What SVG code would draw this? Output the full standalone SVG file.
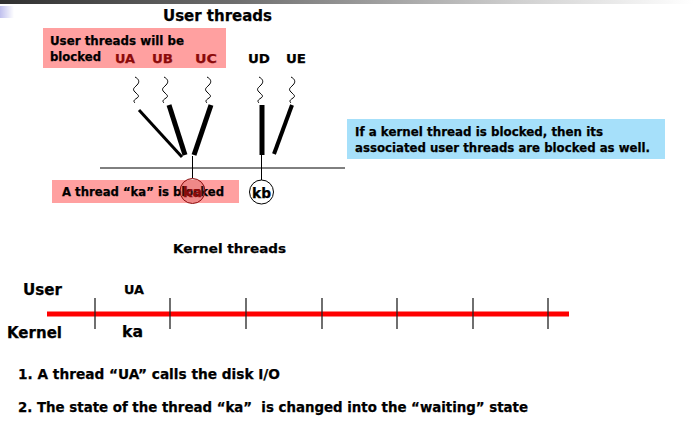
<svg xmlns="http://www.w3.org/2000/svg" width="693" height="448" viewBox="0 0 693 448">
<defs>
<linearGradient id="topbar" x1="0" y1="0" x2="1" y2="0">
<stop offset="0" stop-color="#303030"/>
<stop offset="0.35" stop-color="#707070"/>
<stop offset="0.75" stop-color="#d0d0d0"/>
<stop offset="1" stop-color="#ffffff"/>
</linearGradient>
<linearGradient id="lav" x1="0" y1="0" x2="1" y2="0">
<stop offset="0" stop-color="#c0c0ee"/>
<stop offset="1" stop-color="#ffffff"/>
</linearGradient>
<path id="sq" d="M-1,0 c4,2 5,5 2,8 s-5,4 -2,7 s5,4 2,6 s-4,3 -2,5" fill="none" stroke="#000" stroke-width="1"/>
</defs>
<style>
text{font-family:"DejaVu Sans","Verdana",sans-serif;font-weight:bold;fill:#000;stroke:#000;stroke-width:0.25}
.t12{font-size:12px}
.t13{font-size:13px}
.red{fill:#8b0a0a;stroke:#8b0a0a}
.pink{fill:#ffa0a0}
.blue{fill:#a6e0fa}
.thin{stroke:#000;stroke-width:1;fill:none}
.tick{stroke:#222;stroke-width:1.3}
</style>
<rect x="0" y="0" width="693" height="4" fill="url(#topbar)"/>
<rect x="0" y="6" width="14" height="12" fill="url(#lav)"/>

<text x="163" y="21" style="font-size:15px" textLength="109" lengthAdjust="spacingAndGlyphs">User threads</text>

<g id="user-blocked-note">
<rect class="pink" x="43" y="28" width="183" height="40"/>
<text class="t12" x="50" y="45" textLength="134" lengthAdjust="spacingAndGlyphs">User threads will be</text>
<text class="t12" x="50" y="61" textLength="51" lengthAdjust="spacingAndGlyphs">blocked</text>
</g>
<g id="UA"><text class="t13 red" x="115" y="63" textLength="20" lengthAdjust="spacingAndGlyphs">UA</text><use href="#sq" x="136" y="77"/></g>
<g id="UB"><text class="t13 red" x="152" y="63" textLength="21" lengthAdjust="spacingAndGlyphs">UB</text><use href="#sq" x="165" y="77"/></g>
<g id="UC"><text class="t13 red" x="195" y="63" textLength="22" lengthAdjust="spacingAndGlyphs">UC</text><use href="#sq" x="208" y="77"/></g>
<g id="UD"><text class="t13" x="248" y="63" textLength="22" lengthAdjust="spacingAndGlyphs">UD</text><use href="#sq" x="260" y="77"/></g>
<g id="UE"><text class="t13" x="286" y="63" textLength="20" lengthAdjust="spacingAndGlyphs">UE</text><use href="#sq" x="292" y="77"/></g>

<g id="connectors">
<line x1="139" y1="110" x2="182" y2="157" stroke="#000" stroke-width="3"/>
<line x1="169" y1="105" x2="185" y2="155" stroke="#000" stroke-width="5"/>
<line x1="211" y1="105" x2="194" y2="155" stroke="#000" stroke-width="5"/>
<line x1="262" y1="105" x2="262" y2="155" stroke="#000" stroke-width="5"/>
<line x1="292" y1="105" x2="274" y2="154" stroke="#000" stroke-width="4"/>
<line class="thin" x1="100" y1="168" x2="345" y2="168"/>
<line class="thin" x1="192.5" y1="156" x2="192.5" y2="178"/>
<line class="thin" x1="261.5" y1="155" x2="261.5" y2="180"/>
</g>

<g id="blocked-note">
<rect class="pink" x="52" y="180" width="187" height="23"/>
<text class="t12" x="62" y="196" textLength="162" lengthAdjust="spacingAndGlyphs">A thread “ka” is blocked</text>
</g>
<g id="ka">
<circle cx="192.5" cy="191" r="12.5" fill="#c04040" fill-opacity="0.25" stroke="#8b0a0a" stroke-width="1"/>
<text class="red" x="183" y="197" style="font-size:14px" textLength="19" lengthAdjust="spacingAndGlyphs">ka</text>
</g>
<g id="kb">
<circle cx="261.5" cy="192" r="12" fill="#fff" stroke="#000" stroke-width="1"/>
<text x="252" y="198" style="font-size:14px" textLength="19" lengthAdjust="spacingAndGlyphs">kb</text>
</g>

<g id="kernel-note">
<rect class="blue" x="347" y="119" width="318" height="40"/>
<text class="t12" x="355" y="136" textLength="248" lengthAdjust="spacingAndGlyphs">If a kernel thread is blocked, then its</text>
<text class="t12" x="355" y="152" textLength="295" lengthAdjust="spacingAndGlyphs">associated user threads are blocked as well.</text>
</g>

<text class="t13" x="173" y="253" textLength="113" lengthAdjust="spacingAndGlyphs">Kernel threads</text>

<g id="timeline">
<text x="23" y="295" style="font-size:15px" textLength="39" lengthAdjust="spacingAndGlyphs">User</text>
<text x="7" y="338" style="font-size:15px" textLength="55" lengthAdjust="spacingAndGlyphs">Kernel</text>
<text class="t13" x="124" y="294" textLength="20" lengthAdjust="spacingAndGlyphs">UA</text>
<text x="122" y="337" style="font-size:16px" textLength="21" lengthAdjust="spacingAndGlyphs">ka</text>
<line x1="47" y1="314" x2="569" y2="314" stroke="#ff0000" stroke-width="5"/>
<line class="tick" x1="95" y1="298" x2="95" y2="329"/>
<line class="tick" x1="170" y1="298" x2="170" y2="329"/>
<line class="tick" x1="246" y1="298" x2="246" y2="329"/>
<line class="tick" x1="322" y1="298" x2="322" y2="329"/>
<line class="tick" x1="397" y1="298" x2="397" y2="329"/>
<line class="tick" x1="473" y1="298" x2="473" y2="329"/>
<line class="tick" x1="548" y1="298" x2="548" y2="329"/>
</g>

<text x="18" y="379" style="font-size:14px" textLength="262" lengthAdjust="spacingAndGlyphs">1. A thread “UA” calls the disk I/O</text>
<text x="18" y="412" style="font-size:14px" textLength="510" lengthAdjust="spacingAndGlyphs" xml:space="preserve">2. The state of the thread “ka”  is changed into the “waiting” state</text>
</svg>
